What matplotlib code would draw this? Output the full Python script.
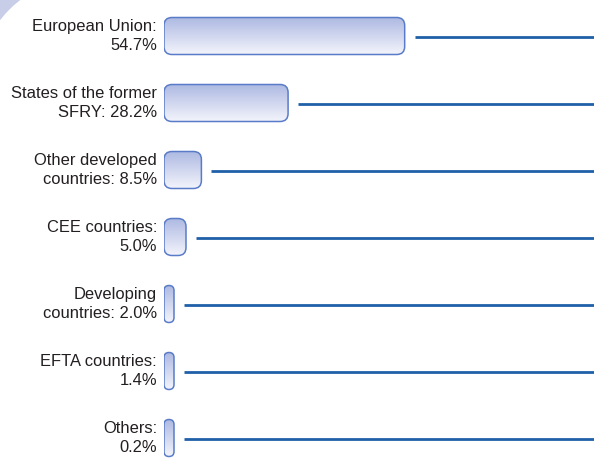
import numpy as np
import matplotlib
matplotlib.use("Agg")
import matplotlib.pyplot as plt
from matplotlib.patches import FancyBboxPatch, Circle, Rectangle
from matplotlib.colors import LinearSegmentedColormap

# export structure by country group, share in %
groups = ["European Union:", "States of the former", "Other developed",
          "CEE countries:", "Developing", "EFTA countries:", "Others:"]
second_lines = ["54.7%", "SFRY: 28.2%", "countries: 8.5%", "5.0%",
                "countries: 2.0%", "1.4%", "0.2%"]
shares = [54.7, 28.2, 8.5, 5.0, 2.0, 1.4, 0.2]

W, H = 594, 459
fig = plt.figure(figsize=(W / 100, H / 100), dpi=100)
plt.rcParams['font.family'] = ['Liberation Sans', 'DejaVu Sans']

# corner decoration
bg = fig.add_axes([0, 0, 1, 1])
bg.set_xlim(0, W)
bg.set_ylim(H, 0)
bg.axis('off')
bg.add_patch(Rectangle((0, 0), 50, 50, facecolor='#c8cde8', edgecolor='none'))
bg.add_patch(Circle((100, 100), 128, facecolor='white', edgecolor='none'))

px_per_pct = 4.4
px_per_row = 67
left_px = 164
ax = fig.add_axes([left_px / W, 0, 1 - left_px / W, 1])
ax.set_xlim(0, (W - left_px) / px_per_pct)
ax.set_ylim((H - 36) / px_per_row, -36 / px_per_row)
ax.axis('off')

bar_h = 37 / px_per_row
min_w = 10 / px_per_pct
grad = np.linspace(0, 1, 64).reshape(-1, 1)
cmap = LinearSegmentedColormap.from_list('bar', ['#adb9e2', '#f2f3fb'])

for i, (g, s2, v) in enumerate(zip(groups, second_lines, shares)):
    w = max(v, min_w)
    rad_px = 8 if w * px_per_pct > 16 else 5
    box = FancyBboxPatch((0, i - bar_h / 2), w, bar_h,
                         boxstyle=f"round,pad=0,rounding_size={rad_px / px_per_pct}",
                         mutation_aspect=px_per_pct / px_per_row,
                         facecolor='none', edgecolor='#5a7cc8', linewidth=1.1, zorder=3)
    ax.add_patch(box)
    im = ax.imshow(grad, extent=(0, w, i + bar_h / 2, i - bar_h / 2),
                   cmap=cmap, aspect='auto', zorder=2, interpolation='bilinear')
    im.set_clip_path(box)
    ax.plot([w + 10 / px_per_pct, ax.get_xlim()[1]], [i + 0.02, i + 0.02],
            color='#1f60a9', linewidth=2, solid_capstyle='butt', zorder=2)
    ax.text(-7 / px_per_pct, i, g + "\n" + s2, ha='right', va='center',
            fontsize=11.9, color='#231f20', linespacing=1.3, clip_on=False)

fig.savefig("out.png", dpi=100)
